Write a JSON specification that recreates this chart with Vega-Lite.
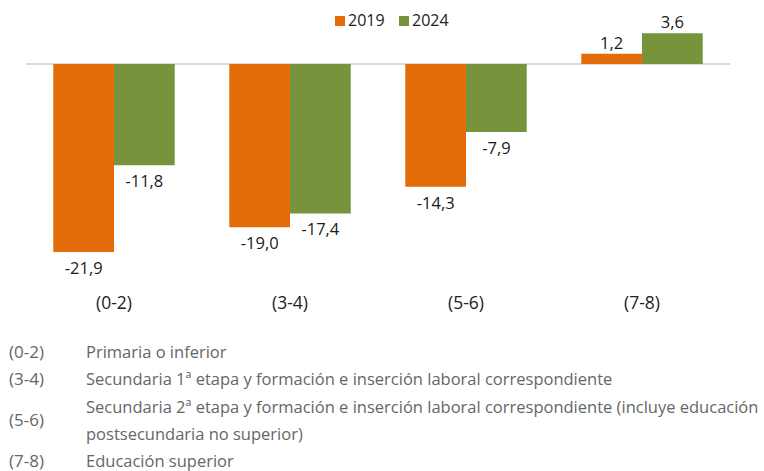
{
  "$schema": "https://vega.github.io/schema/vega-lite/v6.json",
  "padding": {"top": 13, "left": 9, "right": 2, "bottom": 2},
  "autosize": {"type": "pad"},
  "config": {
    "font": "Open Sans",
    "view": {"stroke": null},
    "locale": {"number": {"decimal": ",", "thousands": ".", "grouping": [3], "currency": ["", " €"], "minus": "-"}}
  },
  "spacing": 32,
  "vconcat": [
    {
      "width": 704,
      "height": 255,
      "data": {
        "values": [
          {"nivel": "(0-2)", "anio": "2019", "valor": -21.9},
          {"nivel": "(0-2)", "anio": "2024", "valor": -11.8},
          {"nivel": "(3-4)", "anio": "2019", "valor": -19.0},
          {"nivel": "(3-4)", "anio": "2024", "valor": -17.4},
          {"nivel": "(5-6)", "anio": "2019", "valor": -14.3},
          {"nivel": "(5-6)", "anio": "2024", "valor": -7.9},
          {"nivel": "(7-8)", "anio": "2019", "valor": 1.2},
          {"nivel": "(7-8)", "anio": "2024", "valor": 3.6}
        ]
      },
      "layer": [
        {
          "mark": {"type": "rule", "color": "#d9d9d9", "strokeWidth": 2},
          "encoding": {
            "y": {"datum": 0, "type": "quantitative", "scale": {"domain": [-25.5, 4.2], "nice": false, "zero": false}, "axis": null}
          }
        },
        {
          "mark": {"type": "bar"},
          "encoding": {
            "x": {"field": "nivel", "type": "nominal", "sort": null,
              "scale": {"paddingInner": 0.31, "paddingOuter": 0.155},
              "axis": {"title": null, "domain": false, "ticks": false, "labelAngle": 0, "labelFontSize": 17.5, "labelColor": "#222222", "labelPadding": 11}},
            "xOffset": {"field": "anio", "type": "nominal"},
            "y": {"field": "valor", "type": "quantitative"},
            "color": {"field": "anio", "type": "nominal",
              "scale": {"domain": ["2019", "2024"], "range": ["#E36C09", "#77933C"]},
              "legend": {"title": null, "orient": "none", "legendX": 306, "legendY": -15, "direction": "horizontal",
                "symbolType": "square", "symbolSize": 100, "symbolStrokeWidth": 0, "symbolOpacity": 1,
                "labelFontSize": 16, "labelColor": "#222222", "columnPadding": 11, "labelOffset": 0, "padding": 0}}
          }
        },
        {
          "transform": [{"filter": "datum.valor < 0"}],
          "mark": {"type": "text", "baseline": "middle", "dy": 17, "fontSize": 16.5, "color": "#1a1a1a"},
          "encoding": {
            "x": {"field": "nivel", "type": "nominal", "sort": null},
            "xOffset": {"field": "anio", "type": "nominal"},
            "y": {"field": "valor", "type": "quantitative"},
            "text": {"field": "valor", "type": "quantitative", "format": ".1f"}
          }
        },
        {
          "transform": [{"filter": "datum.valor >= 0"}],
          "mark": {"type": "text", "baseline": "middle", "dy": -10, "fontSize": 16.5, "color": "#1a1a1a"},
          "encoding": {
            "x": {"field": "nivel", "type": "nominal", "sort": null},
            "xOffset": {"field": "anio", "type": "nominal"},
            "y": {"field": "valor", "type": "quantitative"},
            "text": {"field": "valor", "type": "quantitative", "format": ".1f"}
          }
        }
      ]
    },
    {
      "width": 704,
      "height": 109,
      "data": {
        "values": [
          {"linea": 1, "codigo": "(0-2)", "texto": "Primaria o inferior"},
          {"linea": 2, "codigo": "(3-4)", "texto": "Secundaria 1ª etapa y formación e inserción laboral correspondiente"},
          {"linea": 3, "codigo": "(5-6)", "texto": "Secundaria 2ª etapa y formación e inserción laboral correspondiente (incluye educación"},
          {"linea": 4, "codigo": "", "texto": "postsecundaria no superior)"},
          {"linea": 5, "codigo": "(7-8)", "texto": "Educación superior"}
        ]
      },
      "encoding": {
        "y": {"field": "linea", "type": "ordinal", "scale": {"type": "point", "padding": 0}, "axis": null}
      },
      "layer": [
        {
          "transform": [{"filter": "datum.codigo != '' && datum.codigo != '(5-6)'"}],
          "mark": {"type": "text", "align": "left", "baseline": "middle", "fontSize": 17, "color": "#666666"},
          "encoding": {"x": {"value": -17}, "text": {"field": "codigo"}}
        },
        {
          "transform": [{"filter": "datum.codigo == '(5-6)'"}],
          "mark": {"type": "text", "align": "left", "baseline": "middle", "dy": 13.6, "fontSize": 17, "color": "#666666"},
          "encoding": {"x": {"value": -17}, "text": {"field": "codigo"}}
        },
        {
          "mark": {"type": "text", "align": "left", "baseline": "middle", "fontSize": 16.5, "color": "#666666"},
          "encoding": {"x": {"value": 60}, "text": {"field": "texto"}}
        }
      ]
    }
  ]
}
